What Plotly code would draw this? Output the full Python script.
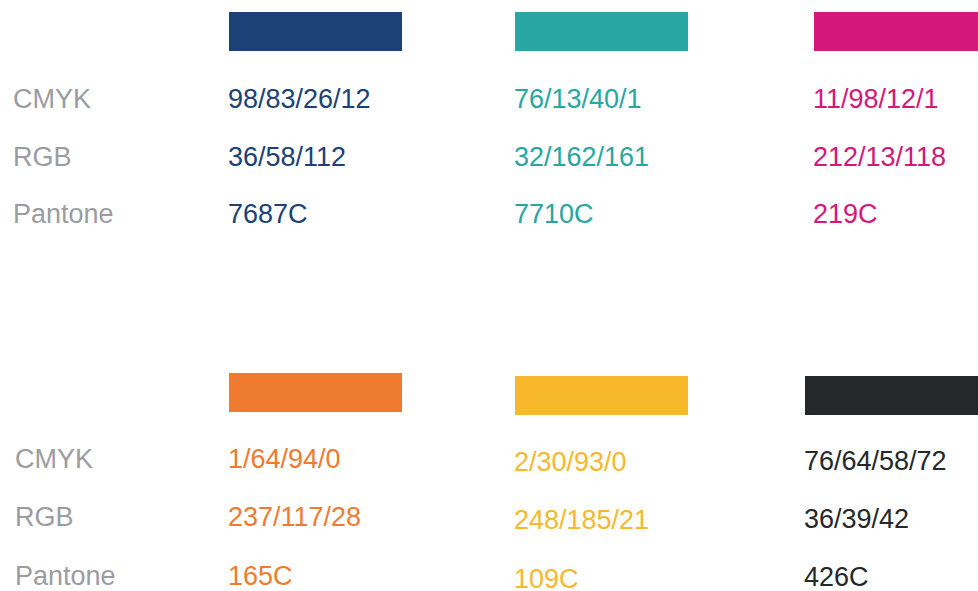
import plotly.graph_objects as go

# Data
row_labels = ["CMYK", "RGB", "Pantone"]
swatch_colors = ["#1b4176", "#27a6a2", "#d4177a", "#ef7b30", "#f8b82b", "#24282b"]
cmyk = ["98/83/26/12", "76/13/40/1", "11/98/12/1", "1/64/94/0", "2/30/93/0", "76/64/58/72"]
rgb = ["36/58/112", "32/162/161", "212/13/118", "237/117/28", "248/185/21", "36/39/42"]
pantone = ["7687C", "7710C", "219C", "165C", "109C", "426C"]

# Layout (pixel space)
W, H = 978, 591
col_x0 = [229, 515, 814, 229, 515, 805]
col_x1 = [402, 688, 978, 402, 688, 978]
sw_y0 = [12, 12, 12, 373, 376, 376]
sw_y1 = [51, 51, 51, 412, 415, 415]
text_rows_y = [[99, 157, 214], [99, 157, 214], [99, 157, 214],
               [459, 517, 576], [462, 520, 579], [461, 519, 577]]
label_x = [14, 16]
label_rows_y = [[99, 157, 214], [459, 517, 576]]
label_color = "#9b9ca0"
FONT = "Liberation Sans, Arial, sans-serif"
FS = 27
PAD = 3
BOX_H = 22

fig = go.Figure()
shapes = []
annotations = []
for i, c in enumerate(swatch_colors):
    shapes.append(dict(type="rect", xref="x", yref="y", x0=col_x0[i], x1=col_x1[i],
                       y0=sw_y0[i], y1=sw_y1[i], fillcolor=c, line=dict(width=0), layer="above"))
    for txt, y in zip([cmyk[i], rgb[i], pantone[i]], text_rows_y[i]):
        annotations.append(dict(x=col_x0[i] - PAD, y=y, xref="x", yref="y", text=txt, showarrow=False,
                                xanchor="left", yanchor="middle", height=BOX_H, valign="middle",
                                font=dict(family=FONT, size=FS, color=c)))
for lx, ys in zip(label_x, label_rows_y):
    for txt, y in zip(row_labels, ys):
        annotations.append(dict(x=lx - PAD, y=y, xref="x", yref="y", text=txt, showarrow=False,
                                xanchor="left", yanchor="middle", height=BOX_H, valign="middle",
                                font=dict(family=FONT, size=FS, color=label_color)))

fig.add_trace(go.Scatter(x=[0, W], y=[0, H], mode="markers", marker=dict(opacity=0),
                         hoverinfo="skip", showlegend=False))
fig.update_layout(
    width=W, height=H, margin=dict(l=0, r=0, t=0, b=0),
    paper_bgcolor="white", plot_bgcolor="white",
    xaxis=dict(range=[0, W], visible=False, fixedrange=True),
    yaxis=dict(range=[H, 0], visible=False, fixedrange=True),
    shapes=shapes, annotations=annotations, showlegend=False,
)
fig.write_html("out.html", config={"displayModeBar": False},
               post_script="document.body.style.margin='0';document.body.style.overflow='hidden';")
